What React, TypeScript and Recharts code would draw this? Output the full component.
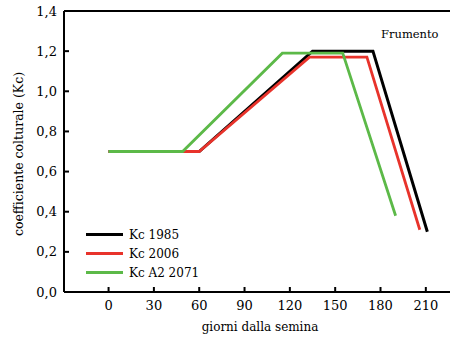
import React from "react";
import { LineChart, Line, XAxis, YAxis, ReferenceLine } from "recharts";

const kc1985 = [
  { giorni: 0, kc: 0.7 },
  { giorni: 60, kc: 0.7 },
  { giorni: 135, kc: 1.2 },
  { giorni: 175, kc: 1.2 },
  { giorni: 211, kc: 0.3 },
];
const kc2006 = [
  { giorni: 0, kc: 0.7 },
  { giorni: 60, kc: 0.7 },
  { giorni: 133, kc: 1.17 },
  { giorni: 171, kc: 1.17 },
  { giorni: 206, kc: 0.31 },
];
const kcA2071 = [
  { giorni: 0, kc: 0.7 },
  { giorni: 49, kc: 0.7 },
  { giorni: 115, kc: 1.19 },
  { giorni: 155, kc: 1.19 },
  { giorni: 190, kc: 0.38 },
];
const xTicks = [0, 30, 60, 90, 120, 150, 180, 210];
const yTicks = [0, 0.2, 0.4, 0.6, 0.8, 1.0, 1.2, 1.4];
const seriesNames = ["Kc 1985", "Kc 2006", "Kc A2 2071"];
const seriesColors = ["#000000", "#e8332b", "#5cb948"];

const FONT = "'DejaVu Serif', serif";

const fmtY = (v: number) => v.toFixed(1).replace(".", ",");

export default function App() {
  return (
    <div style={{ position: "absolute", left: 0, top: 0, width: 450, height: 337, background: "#fff", fontFamily: FONT }}>
      <LineChart width={450} height={337} margin={{ top: 11, right: 0, left: 0, bottom: 0 }} style={{ fontFamily: FONT }}>
        <XAxis
          type="number"
          dataKey="giorni"
          domain={[-29.5, 226]}
          allowDataOverflow
          ticks={xTicks}
          tickSize={-5}
          tickMargin={14}
          height={45}
          axisLine={{ stroke: "#000", strokeWidth: 2 }}
          tickLine={{ stroke: "#000", strokeWidth: 2 }}
          tick={{ fill: "#000", fontSize: 13, fontFamily: FONT }}
        />
        <YAxis
          type="number"
          domain={[0, 1.4]}
          ticks={yTicks}
          tickFormatter={fmtY}
          tickSize={-5}
          tickMargin={12}
          width={64}
          axisLine={{ stroke: "#000", strokeWidth: 2 }}
          tickLine={{ stroke: "#000", strokeWidth: 2 }}
          tick={{ fill: "#000", fontSize: 13, fontFamily: FONT }}
        />
        <ReferenceLine y={1.4} stroke="#000" strokeWidth={2} />
        <Line data={kc1985} dataKey="kc" name={seriesNames[0]} stroke={seriesColors[0]} strokeWidth={3} dot={false} isAnimationActive={false} type="linear" />
        <Line data={kc2006} dataKey="kc" name={seriesNames[1]} stroke={seriesColors[1]} strokeWidth={2.8} dot={false} isAnimationActive={false} type="linear" />
        <Line data={kcA2071} dataKey="kc" name={seriesNames[2]} stroke={seriesColors[2]} strokeWidth={2.8} dot={false} isAnimationActive={false} type="linear" />
        <text x={381} y={38} fontSize={11.5} fill="#000" fontFamily={FONT}>Frumento</text>
        <text x={260} y={331} fontSize={12} fill="#000" textAnchor="middle" fontFamily={FONT}>giorni dalla semina</text>
        <text
          x={23}
          y={154}
          fontSize={12.5}
          fill="#000"
          textAnchor="middle"
          transform="rotate(-90 23 154)"
          fontFamily={FONT}
        >
          coefficiente colturale (Kc)
        </text>
      </LineChart>
      <div style={{ position: "absolute", left: 86, top: 225, fontFamily: FONT, fontSize: 12, color: "#000" }}>
        {seriesNames.map((n, i) => (
          <div key={n} style={{ display: "flex", alignItems: "center", height: 19 }}>
            <div style={{ width: 37, height: 3, background: seriesColors[i], marginRight: 6 }} />
            <span>{n}</span>
          </div>
        ))}
      </div>
    </div>
  );
}
